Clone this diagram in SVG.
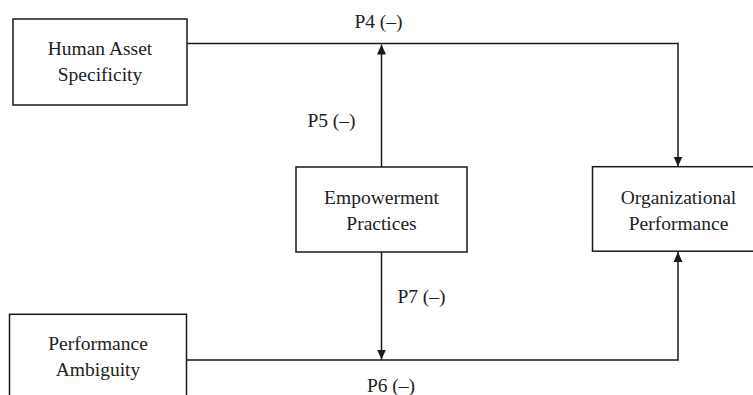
<svg xmlns="http://www.w3.org/2000/svg" width="753" height="395" viewBox="0 0 753 395">
<defs>
<marker id="arr" viewBox="0 0 10 10" refX="10" refY="5" markerWidth="10" markerHeight="10" markerUnits="userSpaceOnUse" orient="auto">
<path d="M0,0.5 L10,5 L0,9.5 Z" fill="#1a1a1a"/>
</marker>
<style>
.box{fill:#fff;stroke:#1a1a1a;stroke-width:1.5}
.t{font-family:"Liberation Serif","Times New Roman",serif;font-size:19.5px;fill:#222;text-anchor:middle}
.c{fill:none;stroke:#1a1a1a;stroke-width:1.5}
</style>
</defs>
<rect width="753" height="395" fill="#fff"/>
<g id="connectors">
<polyline class="c" points="187,43.5 678,43.5 678,166.5" marker-end="url(#arr)"/>
<line class="c" x1="381.5" y1="167" x2="381.5" y2="44.5" marker-end="url(#arr)"/>
<line class="c" x1="381.5" y1="252" x2="381.5" y2="359.5" marker-end="url(#arr)"/>
<polyline class="c" points="186.5,360 678,360 678,252" marker-end="url(#arr)"/>
<text class="t" x="378.5" y="28">P4 (–)</text>
<text class="t" x="331.5" y="127">P5 (–)</text>
<text class="t" x="421.5" y="303">P7 (–)</text>
<text class="t" x="391" y="392">P6 (–)</text>
</g>
<g id="human-asset-specificity">
<rect class="box" x="13" y="19" width="174" height="86"/>
<text class="t" x="100" y="55">Human Asset</text>
<text class="t" x="100" y="81">Specificity</text>
</g>
<g id="empowerment-practices">
<rect class="box" x="296" y="167" width="171" height="85"/>
<text class="t" x="381.5" y="204">Empowerment</text>
<text class="t" x="381.5" y="230">Practices</text>
</g>
<g id="organizational-performance">
<rect class="box" x="592.5" y="166.7" width="172" height="84.5"/>
<text class="t" x="678.5" y="204">Organizational</text>
<text class="t" x="678.5" y="230">Performance</text>
</g>
<g id="performance-ambiguity">
<rect class="box" x="9.5" y="314.3" width="177" height="100"/>
<text class="t" x="98" y="350">Performance</text>
<text class="t" x="98" y="376">Ambiguity</text>
</g>
</svg>
